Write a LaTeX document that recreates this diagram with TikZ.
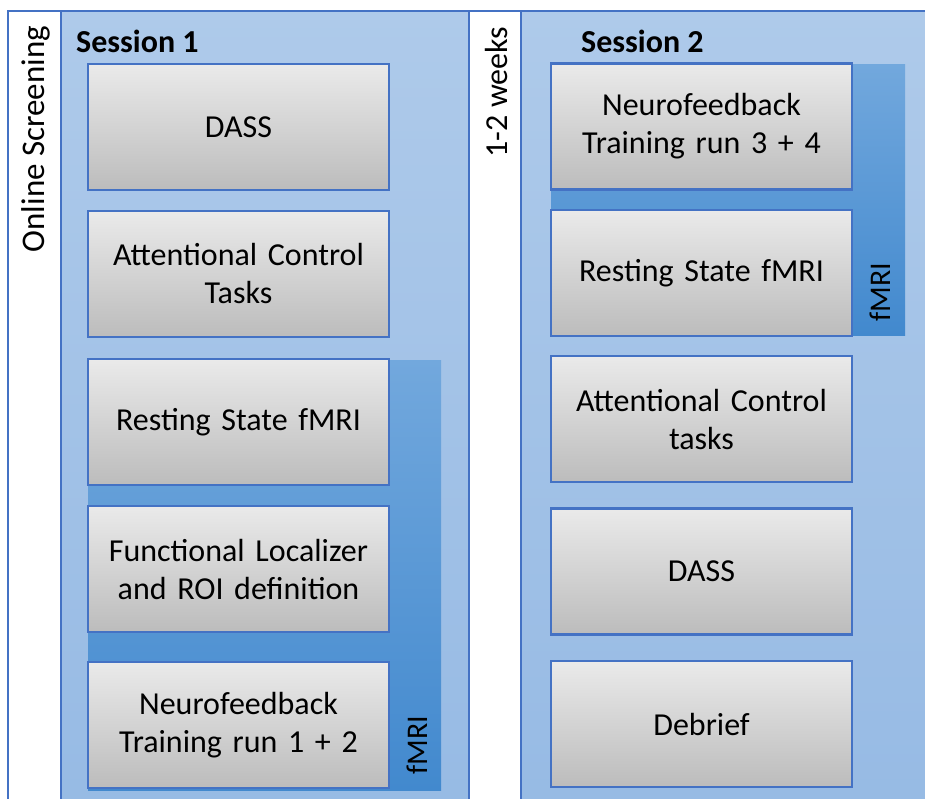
\documentclass[tikz,border=0pt]{standalone}
\usepackage{fontspec}
\setmainfont{Carlito}
\usetikzlibrary{positioning,calc}
\definecolor{PanelBlue}{RGB}{174,202,234}
\definecolor{PanelBlueDark}{RGB}{150,186,228}
\definecolor{EdgeBlue}{RGB}{68,114,196}
\definecolor{BarTop}{RGB}{114,168,221}
\definecolor{BarBottom}{RGB}{66,137,206}
\definecolor{BoxTop}{RGB}{234,234,234}
\definecolor{BoxBottom}{RGB}{188,188,188}
\tikzset{
  panel/.style={draw=EdgeBlue,line width=2pt,top color=PanelBlue,bottom color=PanelBlueDark},
  strip/.style={draw=EdgeBlue,line width=2pt,fill=white},
  fmribar/.style={top color=BarTop,bottom color=BarBottom},
  stepbox/.style={draw=EdgeBlue,line width=2.5pt,top color=BoxTop,bottom color=BoxBottom,
    minimum width=301pt,minimum height=126pt,text width=290pt,align=center,
    font=\fontsize{32}{38}\selectfont},
  title/.style={font=\fontsize{32}{36}\selectfont\bfseries,anchor=west,inner sep=0pt},
  vlabel/.style={rotate=90,font=\fontsize{30}{36}\selectfont,inner sep=0pt},
}

\begin{document}
\begin{tikzpicture}[x=1pt,y=-1pt]
\clip (0,0) rectangle (925,798);
% columns
\draw[strip] (8,11) rectangle (61,830);
\draw[panel] (61,11) rectangle (469,830);
\draw[strip] (469,11) rectangle (521,830);
\draw[panel] (521,11) rectangle (960,830);
\node[vlabel,font=\fontsize{33}{36}\selectfont] (online) at (36,139) {Online Screening};
\node[vlabel,font=\fontsize{32}{36}\selectfont] (weeks) at (496,92) {1-2 weeks};
\node[title] (sess1) at (76,41) {Session 1};
\node[title] (sess2) at (581,41) {Session 2};
% fMRI bars
\fill[fmribar] (88,360) rectangle (441,790);
\fill[fmribar] (551,64) rectangle (905,335);
\node[vlabel] (fmri1) at (417,745) {fMRI};
\node[vlabel] (fmri2) at (880,292) {fMRI};
% session 1
\node[stepbox] (dass1) at (238.5,127) {DASS};
\node[stepbox] (attn1) at (238.5,274) {Attentional Control\\Tasks};
\node[stepbox] (rest1) at (238.5,422) {Resting State fMRI};
\node[stepbox] (loc1) at (238.5,569) {Functional Localizer\\and ROI definition};
\node[stepbox] (nf1) at (238.5,725) {Neurofeedback\\Training run 1 + 2};
% session 2
\node[stepbox] (nf2) at (701.5,126.5) {Neurofeedback\\Training run 3 + 4};
\node[stepbox] (rest2) at (701.5,273) {Resting State fMRI};
\node[stepbox] (attn2) at (701.5,419) {Attentional Control\\tasks};
\node[stepbox] (dass2) at (701.5,571.5) {DASS};
\node[stepbox] (debrief2) at (701.5,724) {Debrief};
\end{tikzpicture}
\end{document}
